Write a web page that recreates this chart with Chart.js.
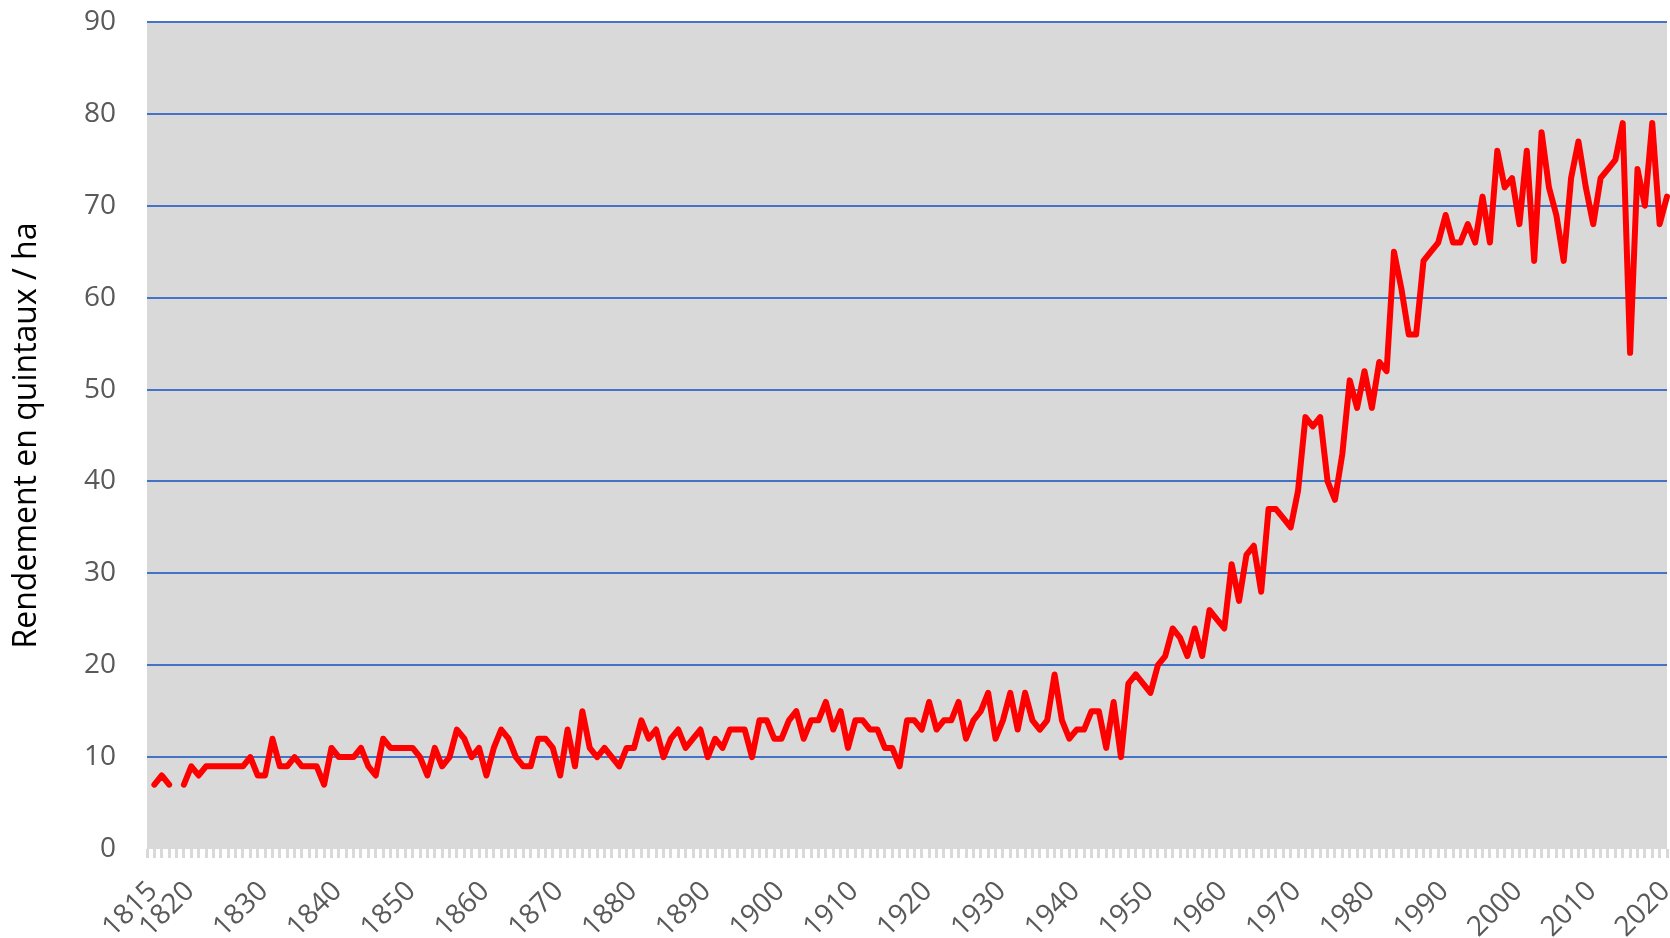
<!DOCTYPE html>
<html lang="fr">
<head>
<meta charset="utf-8" />
<script src="https://cdn.jsdelivr.net/npm/chart.js@4/dist/chart.umd.min.js"></script>
<title>Rendement du blé</title>
<style>
  body { margin: 0; background: #fff; }
</style>
</head>
<body>
<canvas id="rendement" width="1670" height="938"></canvas>
<script>
// années 1815 -> 2021 (une catégorie par an)
var annees = [];
for (var a = 1815; a <= 2021; a++) annees.push(a);

// rendement en quintaux / ha (null = pas de donnée)
var rendements = [
  null, 7, 8, 7, null,
  7, 9, 8, 9, 9, 9, 9, 9, 9, 10,          // 1820
  8, 8, 12, 9, 9, 10, 9, 9, 9, 7,         // 1830
  11, 10, 10, 10, 11, 9, 8, 12, 11, 11,   // 1840
  11, 11, 10, 8, 11, 9, 10, 13, 12, 10,   // 1850
  11, 8, 11, 13, 12, 10, 9, 9, 12, 12,    // 1860
  11, 8, 13, 9, 15, 11, 10, 11, 10, 9,    // 1870
  11, 11, 14, 12, 13, 10, 12, 13, 11, 12, // 1880
  13, 10, 12, 11, 13, 13, 13, 10, 14, 14, // 1890
  12, 12, 14, 15, 12, 14, 14, 16, 13, 15, // 1900
  11, 14, 14, 13, 13, 11, 11, 9, 14, 14,  // 1910
  13, 16, 13, 14, 14, 16, 12, 14, 15, 17, // 1920
  12, 14, 17, 13, 17, 14, 13, 14, 19, 14, // 1930
  12, 13, 13, 15, 15, 11, 16, 10, 18, 19, // 1940
  18, 17, 20, 21, 24, 23, 21, 24, 21, 26, // 1950
  25, 24, 31, 27, 32, 33, 28, 37, 37, 36, // 1960
  35, 39, 47, 46, 47, 40, 38, 43, 51, 48, // 1970
  52, 48, 53, 52, 65, 61, 56, 56, 64, 65, // 1980
  66, 69, 66, 66, 68, 66, 71, 66, 76, 72, // 1990
  73, 68, 76, 64, 78, 72, 69, 64, 73, 77, // 2000
  72, 68, 73, 74, 75, 79, 54, 74, 70, 79, // 2010
  68, 71                                  // 2020
];

// années écrites sous l'axe
var anneesAffichees = [1815, 1820, 1830, 1840, 1850, 1860, 1870, 1880, 1890, 1900,
  1910, 1920, 1930, 1940, 1950, 1960, 1970, 1980, 1990, 2000, 2010, 2020];

var graduationsY = [0, 10, 20, 30, 40, 50, 60, 70, 80, 90];

// fond gris de la zone de tracé
var fondGris = {
  id: "fondGris",
  beforeDraw: function (chart) {
    var c = chart.ctx, z = chart.chartArea;
    c.save();
    c.fillStyle = "#D9D9D9";
    c.fillRect(z.left, z.top, z.right - z.left, z.bottom - z.top);
    c.restore();
  }
};

new Chart(document.getElementById("rendement").getContext("2d"), {
  type: "line",
  data: {
    labels: annees,
    datasets: [{
      data: rendements,
      borderColor: "#FF0000",
      borderWidth: 6,
      pointRadius: 0,
      tension: 0,
      spanGaps: false,
      borderJoinStyle: "round",
      borderCapStyle: "round"
    }]
  },
  options: {
    responsive: false,
    animation: false,
    layout: { padding: { top: 22, right: 3, bottom: 0, left: 0 } },
    plugins: { legend: { display: false }, tooltip: { enabled: false } },
    scales: {
      x: {
        offset: false,
        border: { display: false },
        grid: { drawOnChartArea: false, drawTicks: true, tickLength: 9, color: "#D9D9D9", lineWidth: 3 },
        ticks: {
          autoSkip: false,
          minRotation: 45,
          maxRotation: 45,
          padding: 17,
          labelOffset: 6,
          color: "#595959",
          font: { family: "Open Sans", size: 28 },
          callback: function (v, i) {
            return anneesAffichees.indexOf(annees[i]) >= 0 ? String(annees[i]) : "";
          }
        },
        afterFit: function (s) {
          s.height = 89;
          s.paddingLeft = 0;
          s.paddingRight = 0;
        }
      },
      y: {
        min: 0,
        max: 90,
        border: { display: false },
        grid: {
          drawTicks: false,
          lineWidth: 2,
          color: function (c) { return c.tick && c.tick.value === 0 ? "rgba(0,0,0,0)" : "#4472C4"; }
        },
        afterBuildTicks: function (s) {
          s.ticks = graduationsY.map(function (v) { return { value: v }; });
        },
        ticks: {
          padding: 31,
          color: "#595959",
          font: { family: "Open Sans", size: 28 }
        },
        title: {
          display: true,
          text: "Rendement en quintaux / ha",
          color: "#000000",
          font: { family: "Open Sans", size: 32 },
          padding: { top: 8, bottom: 0 }
        },
        afterFit: function (s) {
          s.width = 147;
          s.paddingTop = 0;
          s.paddingBottom = 0;
        }
      }
    }
  },
  plugins: [fondGris]
});
</script>
</body>
</html>
